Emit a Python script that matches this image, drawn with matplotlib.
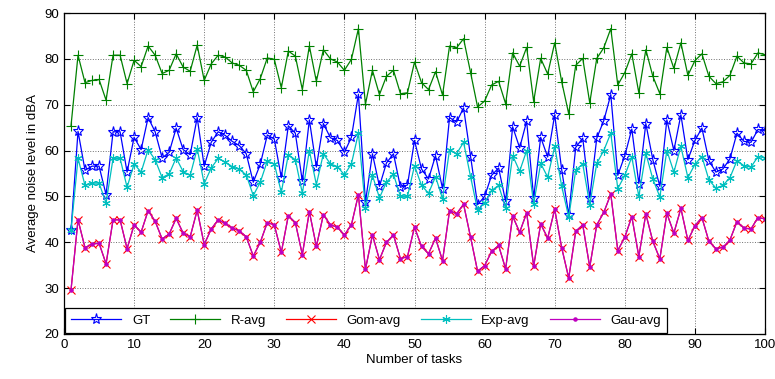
import matplotlib
matplotlib.use('Agg')
import matplotlib.pyplot as plt
import numpy as np

plt.rcParams['font.family'] = ['Liberation Sans', 'DejaVu Sans']

tasks = np.arange(1, 101)

gt = [42.6, 64.2, 55.7, 56.6, 56.6, 50.4, 64.1, 64.1, 55.3, 62.9,
      60.2, 67.2, 64.1, 58.4, 59.6, 64.9, 60.2, 59.1, 67.2, 56.6,
      61.8, 64.1, 63.3, 62.0, 61.1, 59.3, 53.1, 57.0, 63.4, 62.5,
      54.1, 65.4, 63.8, 53.3, 66.7, 56.4, 65.9, 62.8, 62.2, 59.6,
      62.9, 72.3, 48.8, 59.3, 52.2, 57.3, 59.3, 52.0, 52.5, 62.2,
      56.0, 53.8, 58.9, 51.7, 67.2, 66.2, 69.3, 58.7, 48.2, 50.0,
      54.6, 56.2, 48.9, 65.2, 60.6, 66.4, 49.7, 62.9, 58.6, 67.8,
      55.8, 46.0, 60.7, 62.7, 49.7, 62.7, 66.5, 72.2, 54.6, 58.9,
      64.7, 52.8, 65.9, 58.0, 52.2, 66.7, 60.0, 67.8, 58.0, 62.2,
      64.9, 57.8, 55.3, 56.0, 58.2, 63.8, 62.0, 61.8, 64.6, 64.3]

r_avg = [65.4, 80.8, 74.8, 75.3, 75.5, 71.0, 80.8, 80.8, 74.6, 79.7,
         78.3, 82.8, 80.8, 76.8, 77.5, 81.1, 78.2, 77.3, 83.0, 75.3,
         78.9, 80.8, 80.4, 79.1, 78.6, 77.5, 72.8, 75.7, 80.2, 79.9,
         73.7, 81.7, 80.6, 73.3, 82.8, 75.1, 82.0, 80.0, 79.3, 77.5,
         79.9, 86.6, 70.1, 77.5, 72.2, 76.2, 77.5, 72.4, 72.6, 79.3,
         74.8, 73.3, 77.2, 72.1, 82.8, 82.4, 84.4, 77.0, 69.5, 70.8,
         74.3, 75.1, 70.2, 81.3, 78.4, 82.5, 70.7, 80.1, 76.7, 83.5,
         75.0, 68.0, 78.6, 80.1, 70.4, 80.1, 82.4, 86.6, 74.3, 77.0,
         81.1, 72.6, 82.0, 76.2, 72.4, 82.5, 77.9, 83.5, 76.4, 79.6,
         81.1, 76.2, 74.6, 75.0, 76.4, 80.6, 79.1, 78.9, 81.3, 80.9]

exp_avg = [42.6, 58.3, 52.4, 52.9, 52.9, 48.6, 58.3, 58.3, 52.0, 57.1,
           55.3, 60.2, 58.0, 54.1, 54.9, 58.4, 55.4, 54.6, 60.4, 52.8,
           56.2, 58.3, 57.5, 56.5, 55.9, 54.7, 50.2, 53.1, 57.7, 57.1,
           50.9, 59.1, 58.0, 50.7, 60.0, 52.6, 59.3, 57.1, 56.5, 54.7,
           57.1, 63.8, 47.5, 54.6, 49.7, 53.1, 54.8, 50.0, 50.0, 56.7,
           52.4, 50.7, 54.3, 49.5, 60.2, 59.3, 61.8, 54.3, 47.0, 48.6,
           51.3, 52.4, 47.5, 58.9, 55.5, 60.0, 48.4, 57.2, 54.2, 60.9,
           52.2, 45.5, 55.7, 57.1, 48.2, 57.2, 60.0, 63.8, 51.7, 54.6,
           58.6, 50.0, 59.4, 53.8, 49.9, 60.0, 55.3, 60.9, 54.1, 57.0,
           58.7, 53.6, 51.8, 52.4, 54.1, 57.8, 56.7, 56.4, 58.7, 58.4]

gau_avg = [29.6, 44.9, 38.8, 39.6, 39.8, 35.3, 44.9, 44.9, 38.6, 43.8,
           42.2, 46.9, 44.6, 40.7, 41.8, 45.2, 42.0, 41.2, 47.0, 39.5,
           42.9, 44.9, 44.1, 43.1, 42.5, 41.2, 37.0, 40.0, 44.3, 43.8,
           37.8, 45.8, 44.3, 37.3, 46.7, 39.1, 46.0, 43.8, 43.3, 41.6,
           43.8, 50.4, 34.1, 41.6, 36.2, 40.0, 41.6, 36.4, 36.9, 43.3,
           39.1, 37.5, 40.9, 36.0, 46.9, 46.2, 48.3, 41.1, 33.7, 34.9,
           38.0, 39.3, 34.2, 45.7, 42.2, 46.4, 34.8, 44.0, 40.9, 47.2,
           38.8, 32.2, 42.4, 43.8, 34.6, 43.8, 46.5, 50.5, 38.2, 41.1,
           45.6, 36.9, 46.2, 40.2, 36.4, 46.3, 42.0, 47.4, 40.4, 43.6,
           45.4, 40.2, 38.6, 38.9, 40.5, 44.5, 43.1, 42.9, 45.4, 45.1]

# Gom-avg sits right under Gau-avg in the picture
gom_avg = list(gau_avg)

fig = plt.figure(figsize=(7.75, 3.79), dpi=100)
ax = fig.add_axes([64 / 775, 1 - 334 / 379, 701 / 775, 321 / 379])

asterisk = (6, 2, 0)
ax.plot(tasks, gt, '-', color='#0000FF', marker='*', mfc='none', mec='#0000FF',
        markersize=8, lw=0.9, mew=0.8, label='GT')
ax.plot(tasks, r_avg, '-', color='#008000', marker='+', markersize=7, lw=0.9,
        mew=0.8, label='R-avg')
ax.plot(tasks, gom_avg, '-', color='#FF0000', marker='x', markersize=6, lw=0.9,
        mew=0.8, label='Gom-avg')
ax.plot(tasks, exp_avg, '-', color='#00BFBF', marker=asterisk, markersize=6,
        lw=0.9, mew=0.8, label='Exp-avg')
ax.plot(tasks, gau_avg, '-', color='#BF00BF', marker='.', markersize=4.5, lw=0.9,
        label='Gau-avg')

ax.set_xlim(0, 100)
ax.set_ylim(20, 90)
ax.set_xticks(np.arange(0, 101, 10))
ax.set_yticks(np.arange(20, 91, 10))
ax.grid(True, linestyle=':', color='#707070', linewidth=0.7)
ax.tick_params(direction='in', top=True, right=True, labelsize=9.5, length=4)
for s in ax.spines.values():
    s.set_linewidth(0.9)

ax.set_xlabel('Number of tasks', fontsize=9.5, labelpad=2)
ax.set_ylabel('Average noise level in dBA', fontsize=9.5, labelpad=4)

leg = ax.legend(loc='lower left', ncol=5, fontsize=9.5, fancybox=False,
                edgecolor='black', framealpha=1, borderaxespad=0.05,
                handlelength=3.8, columnspacing=1.5, borderpad=0.5)
leg.get_frame().set_linewidth(0.9)

fig.savefig('out.png', dpi=100)
